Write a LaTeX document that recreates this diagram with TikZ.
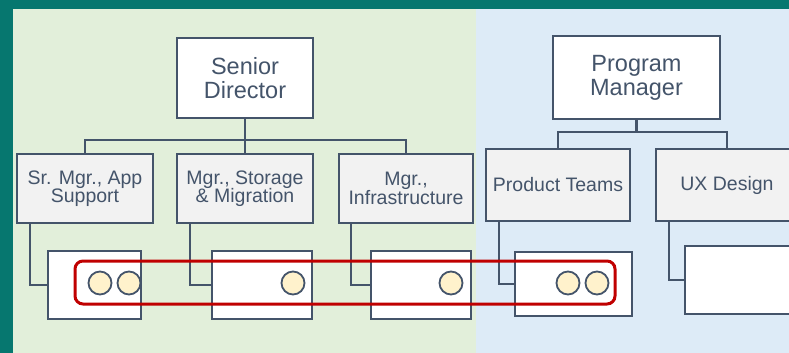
\documentclass[tikz,border=0pt]{standalone}
\usepackage{fontspec}
\setmainfont{Liberation Sans}
\definecolor{frame}{HTML}{06776F}
\definecolor{greenbg}{HTML}{E2EFDA}
\definecolor{bluebg}{HTML}{DDEBF7}
\definecolor{slate}{HTML}{44546A}
\definecolor{lightbox}{HTML}{F2F2F2}
\definecolor{cream}{HTML}{FFF2CC}
\definecolor{groupred}{HTML}{C00000}
\begin{document}
\begin{tikzpicture}[x=1pt,y=-1pt,
  headbox/.style={draw=slate,line width=2pt,fill=white,text=slate,align=center,
    font=\fontsize{23.5}{24}\selectfont,inner sep=0pt},
  unitbox/.style={draw=slate,line width=2pt,fill=lightbox,text=slate,align=center,
    font=\fontsize{19.5}{18.5}\selectfont,inner sep=0pt},
  teambox/.style={draw=slate,line width=2pt,fill=white,inner sep=0pt},
  wire/.style={draw=slate,line width=2.1pt},
  member/.style={circle,draw=slate,line width=1.8pt,fill=cream,minimum size=23pt,inner sep=0pt},
  groupring/.style={draw=groupred,line width=3pt,rounded corners=8pt,inner sep=0pt}]

% page frame and the two coloured halves
\useasboundingbox (0,0) rectangle (789,353);
\fill[frame] (0,0) rectangle (789,353);
\fill[greenbg] (13,9) rectangle (476,353);
\fill[bluebg] (476,9) rectangle (789,353);

% top-level roles
\node[headbox,minimum width=136pt,minimum height=80pt] (sd) at (245,78) {Senior\\Director};
\node[headbox,minimum width=167pt,minimum height=83pt] (pm) at (636.5,77.5) {Program\\Manager};

% second level
\node[unitbox,minimum width=136pt,minimum height=69pt] (app) at (85,188.5) {Sr. Mgr., App\\Support};
\node[unitbox,minimum width=136pt,minimum height=69pt] (stor) at (245,188.5) {Mgr., Storage\\\& Migration};
\node[unitbox,minimum width=134pt,minimum height=69pt] (infra) at (406,188.5) {Mgr.,\\Infrastructure};
\node[unitbox,minimum width=144pt,minimum height=72pt] (prod) at (558,185) {Product Teams};
\node[unitbox,minimum width=142pt,minimum height=72pt] (ux) at (727,185) {UX Design};

% bus lines
\coordinate (busL) at (245,140);
\coordinate (busR) at (636.5,132);
\draw[wire] (sd.south) -- (stor.north);
\draw[wire] (busL) -| (app.north);
\draw[wire] (busL) -| (infra.north);
\draw[wire] (pm.south) -- (busR);
\draw[wire] (busR) -| (prod.north);
\draw[wire] (busR) -| (ux.north);

% team boxes
\node[teambox,minimum width=93pt,minimum height=68pt] (ta) at (94.5,285) {};
\node[teambox,minimum width=100pt,minimum height=68pt] (tb) at (262,285) {};
\node[teambox,minimum width=100pt,minimum height=68pt] (tc) at (421,285) {};
\node[teambox,minimum width=117pt,minimum height=64pt] (td) at (573.5,284) {};
\node[teambox,minimum width=120pt,minimum height=68pt] (te) at (745,280) {};

% elbow connectors to the team boxes
\draw[wire] ([xshift=14pt]app.south west) |- (ta.west);
\draw[wire] ([xshift=14pt]stor.south west) |- (tb.west);
\draw[wire] ([xshift=13pt]infra.south west) |- (tc.west);
\draw[wire] ([xshift=14pt]prod.south west) |- (td.west);
\draw[wire] ([xshift=14pt]ux.south west) |- (te.west);

% cross-team group outline
\node[groupring,minimum width=540pt,minimum height=43pt] (grp) at (345,282.5) {};

% members
\node[member] (m1) at (100,283) {};
\node[member] (m2) at (129,283) {};
\node[member] (m3) at (293,283) {};
\node[member] (m4) at (451,283) {};
\node[member] (m5) at (568,283) {};
\node[member] (m6) at (597,283) {};
\end{tikzpicture}
\end{document}
